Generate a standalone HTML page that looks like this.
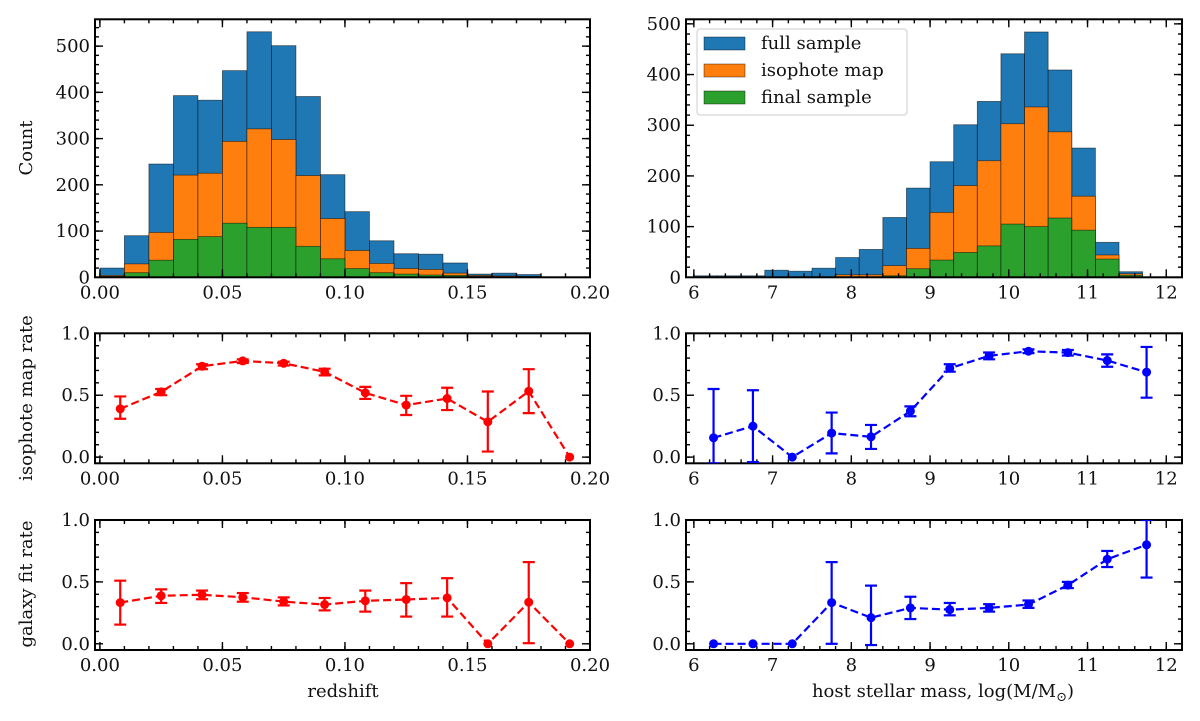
<!DOCTYPE html>
<html><head><meta charset="utf-8"><style>
html,body{margin:0;padding:0;background:#fff;}
svg{display:block;font-family:"DejaVu Serif","Liberation Serif",serif;}
</style></head><body>
<svg id="fig" width="1200" height="721" viewBox="0 0 1200 721" xmlns="http://www.w3.org/2000/svg"></svg>
<script>
// ---- data ----
const zBins = [0,0.01,0.02,0.03,0.04,0.05,0.06,0.07,0.08,0.09,0.10,0.11,0.12,0.13,0.14,0.15,0.16,0.17];
const zFull = [20,90,245,393,383,447,531,501,391,222,142,79,51,50,31,7,9,6];
const zIso  = [4,29,97,221,225,294,321,298,220,127,58,30,19,17,9,4,3,2];
const zFinal= [2,10,37,82,88,117,108,108,67,40,19,10,7,5,4,2,1,1];
const mBins = [6.0,6.3,6.6,6.9,7.2,7.5,7.8,8.1,8.4,8.7,9.0,9.3,9.6,9.9,10.2,10.5,10.8,11.1,11.4];
const mFull = [3,3,3,14,12,18,39,55,118,176,228,301,347,441,484,409,255,69,11];
const mIso  = [0,0,0,0,0,0,5,5,23,57,128,181,230,303,336,287,160,44,7];
const mFinal= [0,0,0,0,0,0,0,0,3,17,34,49,62,105,100,117,93,36,4];

const zCenters = [0.0083,0.025,0.0417,0.0583,0.075,0.0917,0.1083,0.125,0.1417,0.1583,0.175,0.1917];
const zIsoRate = [0.39,0.527,0.734,0.777,0.758,0.689,0.519,0.42,0.473,0.285,0.532,0.0];
const zIsoLo   = [0.31,0.50,0.71,0.76,0.74,0.66,0.47,0.34,0.38,0.045,0.355,null];
const zIsoHi   = [0.49,0.55,0.75,0.79,0.77,0.714,0.567,0.495,0.56,0.53,0.71,null];
const zFitRate = [0.333,0.388,0.396,0.376,0.341,0.317,0.347,0.358,0.371,0.0,0.336,0.0];
const zFitLo   = [0.155,0.33,0.36,0.34,0.31,0.27,0.26,0.22,0.22,null,0.005,null];
const zFitHi   = [0.51,0.44,0.43,0.41,0.375,0.37,0.43,0.49,0.53,null,0.66,null];

const mCenters = [6.25,6.75,7.25,7.75,8.25,8.75,9.25,9.75,10.25,10.75,11.25,11.75];
const mIsoRate = [0.156,0.25,0.0,0.194,0.164,0.371,0.718,0.818,0.855,0.844,0.78,0.686];
const mIsoLo   = [-0.05,-0.04,null,0.03,0.066,0.33,0.69,0.79,0.84,0.82,0.73,0.48];
const mIsoHi   = [0.55,0.54,null,0.36,0.26,0.41,0.75,0.845,0.87,0.865,0.83,0.89];
const mFitRate = [0,0,0,0.333,0.211,0.29,0.276,0.29,0.317,0.474,0.683,0.80];
const mFitLo   = [null,null,null,0.0,-0.01,0.2,0.23,0.26,0.29,0.45,0.62,0.535];
const mFitHi   = [null,null,null,0.66,0.47,0.38,0.33,0.32,0.35,0.50,0.75,1.0];

const zMajor = [0,0.05,0.10,0.15,0.20];
const zMajorLabels = ["0.00","0.05","0.10","0.15","0.20"];
const mMajor = [6,7,8,9,10,11,12];
const mMajorLabels = ["6","7","8","9","10","11","12"];
const cLeftTicks = [0,100,200,300,400,500];
const cRightTicks = [0,100,200,300,400,500];
const rateTicks = [0,0.5,1.0];
const rateLabels = ["0.0","0.5","1.0"];

// ---- helpers ----
const NS="http://www.w3.org/2000/svg";
const svg=document.getElementById('fig');
const FS=18;
function mk(tag,attrs,parent){const e=document.createElementNS(NS,tag);for(const k in attrs)e.setAttribute(k,attrs[k]);(parent||svg).appendChild(e);return e;}

function makeAxes(name,px0,px1,py0,py1,xmin,xmax,ymin,ymax){
  const g=mk('g',{});
  
  
  const sx=v=>px0+(v-xmin)/(xmax-xmin)*(px1-px0);
  const sy=v=>py1-(v-ymin)/(ymax-ymin)*(py1-py0);
  return {g,sx,sy,px0,px1,py0,py1,xmin,xmax,ymin,ymax};
}
function drawFrame(ax,xMaj,xLab,xMinStep,yMaj,yLab,yMinStep){
  const g=mk('g',{},ax.g);
  
  
  const st={stroke:'#000','stroke-width':1.4};
  for(let v=Math.ceil(ax.xmin/xMinStep-1e-6)*xMinStep; v<=ax.xmax+1e-9; v+=xMinStep){
    const x=ax.sx(v); if(x<ax.px0-0.1||x>ax.px1+0.1)continue;
    mk('line',Object.assign({x1:x,x2:x,y1:ax.py1,y2:ax.py1-4},st),g);
    mk('line',Object.assign({x1:x,x2:x,y1:ax.py0,y2:ax.py0+4},st),g);
  }
  for(let v=Math.ceil(ax.ymin/yMinStep-1e-6)*yMinStep; v<=ax.ymax+1e-9; v+=yMinStep){
    const y=ax.sy(v); if(y<ax.py0-0.1||y>ax.py1+0.1)continue;
    mk('line',Object.assign({x1:ax.px0,x2:ax.px0+4,y1:y,y2:y},st),g);
    mk('line',Object.assign({x1:ax.px1,x2:ax.px1-4,y1:y,y2:y},st),g);
  }
  xMaj.forEach((v,i)=>{
    const x=ax.sx(v);
    mk('line',Object.assign({x1:x,x2:x,y1:ax.py1,y2:ax.py1-8},st),g);
    mk('line',Object.assign({x1:x,x2:x,y1:ax.py0,y2:ax.py0+8},st),g);
    const t=mk('text',{x:x,y:ax.py1+21,'text-anchor':'middle','font-size':FS,fill:'#111'},g);
    t.textContent=xLab[i];
    
    
  });
  yMaj.forEach((v,i)=>{
    const y=ax.sy(v);
    mk('line',Object.assign({x1:ax.px0,x2:ax.px0+8,y1:y,y2:y},st),g);
    mk('line',Object.assign({x1:ax.px1,x2:ax.px1-8,y1:y,y2:y},st),g);
    const t=mk('text',{x:ax.px0-5,y:y+6,'text-anchor':'end','font-size':FS,fill:'#111'},g);
    t.textContent=yLab[i];
    
    
  });
  mk('rect',{x:ax.px0,y:ax.py0,width:ax.px1-ax.px0,height:ax.py1-ax.py0,fill:'none',stroke:'#000','stroke-width':2},g);
}
function drawHist(ax,edges,vals,w,color,name){
  const g=mk('g',{},ax.g);
  
  
  edges.forEach((e,i)=>{
    const x0=ax.sx(e),x1=ax.sx(e+w),y=ax.sy(vals[i]),y0=ax.sy(0);
    if(vals[i]<=0)return;
    const r=mk('rect',{x:x0,y:y,width:x1-x0,height:y0-y,fill:color,stroke:'rgba(0,0,0,0.55)','stroke-width':0.8},g);
    
    
  });
}
function drawErr(ax,xs,ys,lo,hi,color,name){
  const g=mk('g',{},ax.g);
  
  
  const clipId=name+'-clip';
  const cp=mk('clipPath',{id:clipId},g);
  mk('rect',{x:ax.px0,y:ax.py0,width:ax.px1-ax.px0,height:ax.py1-ax.py0},cp);
  const inner=mk('g',{'clip-path':'url(#'+clipId+')'},g);
  const pts=xs.map((x,i)=>ax.sx(x)+','+ax.sy(ys[i])).join(' ');
  const pl=mk('polyline',{points:pts,fill:'none',stroke:color,'stroke-width':2.2,'stroke-dasharray':'8,4'},inner);
  
  
  xs.forEach((x,i)=>{
    const cx=ax.sx(x);
    if(lo[i]!==null){
      const a=ax.sy(lo[i]),b=ax.sy(hi[i]);
      const eb=mk('g',{stroke:color,'stroke-width':2.2},inner);
      
      
      mk('line',{x1:cx,x2:cx,y1:a,y2:b},eb);
      mk('line',{x1:cx-6,x2:cx+6,y1:a,y2:a},eb);
      mk('line',{x1:cx-6,x2:cx+6,y1:b,y2:b},eb);
    }
    const c=mk('circle',{cx:cx,cy:ax.sy(ys[i]),r:4.5,fill:color},inner);
    
    
  });
}
function label(txt,x,y,rot,name){
  const t=mk('text',{x:x,y:y,'text-anchor':'middle','font-size':FS,fill:'#111'});
  if(rot)t.setAttribute('transform','rotate(-90 '+x+' '+y+')');
  t.textContent=txt;
  
  
  return t;
}

const BLUE='#1f77b4',ORANGE='#ff7f0e',GREEN='#2ca02c';
const a1=makeAxes('redshift-histogram',95,590,19.3,277.3,-0.002,0.2,0,558);
drawHist(a1,zBins,zFull,0.01,BLUE,'full-sample-redshift');
drawHist(a1,zBins,zIso,0.01,ORANGE,'isophote-map-redshift');
drawHist(a1,zBins,zFinal,0.01,GREEN,'final-sample-redshift');
drawFrame(a1,zMajor,zMajorLabels,0.01,cLeftTicks,cLeftTicks.map(String),20);
const a2=makeAxes('mass-histogram',686,1182,19.3,277.3,5.9,12.2,0,509);
drawHist(a2,mBins,mFull,0.3,BLUE,'full-sample-mass');
drawHist(a2,mBins,mIso,0.3,ORANGE,'isophote-map-mass');
drawHist(a2,mBins,mFinal,0.3,GREEN,'final-sample-mass');
drawFrame(a2,mMajor,mMajorLabels,0.2,cRightTicks,cRightTicks.map(String),20);
(function(){
  const g=mk('g',{});
  
  
  mk('rect',{x:697,y:29,width:210,height:86,rx:3,fill:'rgba(255,255,255,0.85)',stroke:'#ccc','stroke-width':1},g);
  const items=[['full sample',BLUE],['isophote map',ORANGE],['final sample',GREEN]];
  items.forEach((it,i)=>{
    const y=43+i*27;
    const e=mk('g',{},g);
    
    
    mk('rect',{x:704,y:y-6,width:41,height:13,fill:it[1],stroke:'rgba(0,0,0,0.5)','stroke-width':0.8},e);
    const t=mk('text',{x:761,y:y+6,'font-size':FS,fill:'#111'},e);
    t.textContent=it[0];
  });
})();
const a3=makeAxes('redshift-isophote-rate',95,590,333.3,463.3,-0.002,0.2,-0.05,1.0);
drawFrame(a3,zMajor,zMajorLabels,0.01,rateTicks,rateLabels,0.1);
drawErr(a3,zCenters,zIsoRate,zIsoLo,zIsoHi,'#ff0000','redshift-isophote-series');
const a4=makeAxes('mass-isophote-rate',686,1182,333.3,463.3,5.9,12.2,-0.05,1.0);
drawFrame(a4,mMajor,mMajorLabels,0.2,rateTicks,rateLabels,0.1);
drawErr(a4,mCenters,mIsoRate,mIsoLo,mIsoHi,'#0000ff','mass-isophote-series');
const a5=makeAxes('redshift-fit-rate',95,590,520,650,-0.002,0.2,-0.05,1.0);
drawFrame(a5,zMajor,zMajorLabels,0.01,rateTicks,rateLabels,0.1);
drawErr(a5,zCenters,zFitRate,zFitLo,zFitHi,'#ff0000','redshift-fit-series');
const a6=makeAxes('mass-fit-rate',686,1182,520,650,5.9,12.2,-0.05,1.0);
drawFrame(a6,mMajor,mMajorLabels,0.2,rateTicks,rateLabels,0.1);
drawErr(a6,mCenters,mFitRate,mFitLo,mFitHi,'#0000ff','mass-fit-series');

label('Count',32,148,true,'count-axis-title');
label('isophote map rate',32,398,true,'isophote-rate-axis-title');
label('galaxy fit rate',32,584,true,'fit-rate-axis-title');
label('redshift',343,697,false,'redshift-axis-title');
(function(){
  const t=mk('text',{x:943,y:697,'text-anchor':'middle','font-size':FS,fill:'#111'});
  
  
  t.textContent='host stellar mass, log(M/M';
  const s=mk('tspan',{'font-size':13,dy:4},t); s.textContent='\u2299';
  const s2=mk('tspan',{dy:-4},t); s2.textContent=')';
})();
</script>
</body></html>
